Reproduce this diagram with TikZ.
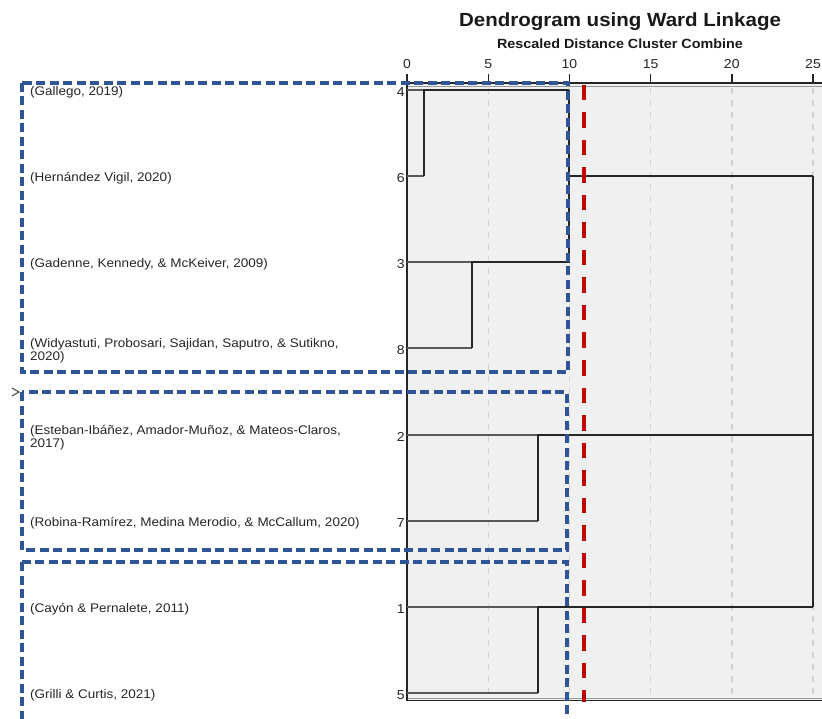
\documentclass[tikz,border=0pt]{standalone}
\usepackage{fontspec}
\setmainfont{Liberation Sans}[FakeStretch=1.08]
\definecolor{boxblue}{HTML}{2F5597}
\definecolor{cutred}{HTML}{C00000}
\definecolor{plotbg}{HTML}{F0F0F0}
\definecolor{gridgray}{HTML}{D2D2D2}
\tikzset{
  lbl/.style={anchor=west, align=left, font=\fontsize{12.5}{13}\selectfont, text=black!85, inner sep=0pt},
  num/.style={anchor=east, font=\fontsize{13}{13}\selectfont, text=black!85, inner sep=0pt},
  tick/.style={anchor=base, font=\fontsize{13}{14}\selectfont, text=black!85, inner sep=0pt},
  leafline/.style={line width=1.3pt, black!65},
  mergeline/.style={line width=1.8pt, black!85},
  gridline/.style={line width=1.4pt, gridgray, dash pattern=on 6pt off 6pt},
  clusterbox/.style={line width=3.4pt, boxblue, dash pattern=on 9pt off 4.5pt},
  cutline/.style={line width=4.2pt, cutred, dash pattern=on 15.5pt off 12pt},
}
\begin{document}
\begin{tikzpicture}[x=1pt,y=-1pt]
\useasboundingbox (0,0) rectangle (822,719);
% plot area
\fill[plotbg] (407,83) rectangle (822,700);
% grid lines
\foreach \u in {5,10,15,20,25} {
  \draw[gridline] ({407+16.24*\u},88) -- ({407+16.24*\u},698);
}
% frame
\draw[line width=1pt, black!40] (407,87) -- (822,87);
\draw[line width=1pt, black!40] (407,698) -- (822,698);
\draw[line width=1.8pt, black!85] (407,700.5) -- (822,700.5);
\draw[line width=1.8pt, black!85] (407,74) -- (407,700.5);
% axis
\draw[line width=1.4pt, black!85] (407,83) -- (822,83);
\foreach \u in {0,5,10,15,20,25} {
  \draw[line width=1.4pt, black!85] ({407+16.24*\u},74) -- ({407+16.24*\u},83);
  \node[tick] (t\u) at ({407+16.24*\u},69) {\u};
}
% titles
\node[anchor=base, font=\fontsize{19}{20}\selectfont\bfseries, text=black!90] (title) at (620,27) {Dendrogram using Ward Linkage};
\node[anchor=base, font=\fontsize{13.3}{14}\selectfont\bfseries, text=black!90] (subtitle) at (620,49) {Rescaled Distance Cluster Combine};

% leaf coordinates
\coordinate (l4) at (407,90);
\coordinate (l6) at (407,176);
\coordinate (l3) at (407,262);
\coordinate (l8) at (407,348);
\coordinate (l2) at (407,435);
\coordinate (l7) at (407,521);
\coordinate (l1) at (407,607);
\coordinate (l5) at (407,693);
% merge coordinates
\coordinate (m46) at (424,90);
\coordinate (m38) at (472,262);
\coordinate (mA) at (569,90);
\coordinate (mAc) at (569,176);
\coordinate (m27) at (538,435);
\coordinate (m15) at (538,607);
\coordinate (top) at (813,176);

% leaf lines
\draw[leafline] (l4) -- (m46);
\draw[leafline] (l6) -- (m46 |- l6);
\draw[leafline] (l3) -- (m38);
\draw[leafline] (l8) -- (m38 |- l8);
\draw[leafline] (l2) -- (m27);
\draw[leafline] (l7) -- (m27 |- l7);
\draw[leafline] (l1) -- (m15);
\draw[leafline] (l5) -- (m15 |- l5);
% merges
\draw[mergeline] (m46 |- l6) -- (m46) -- (mA);
\draw[mergeline] (m38 |- l8) -- (m38) -- (mA |- m38) -- (mA);
\draw[mergeline] (mAc) -- (top);
\draw[mergeline] (m27 |- l7) -- (m27) -- (top |- m27);
\draw[mergeline] (m15 |- l5) -- (m15) -- (top |- m15);
\draw[mergeline] (top) -- (top |- m15);

% labels
\node[lbl] (n4) at (30,92) {(Gallego, 2019)};
\node[lbl] (n6) at (30,178) {(Hernández Vigil, 2020)};
\node[lbl] (n3) at (30,264) {(Gadenne, Kennedy, \& McKeiver, 2009)};
\node[lbl] (n8) at (30,351) {(Widyastuti, Probosari, Sajidan, Saputro, \& Sutikno,\\2020)};
\node[lbl] (n2) at (30,438) {(Esteban-Ibáñez, Amador-Muñoz, \& Mateos-Claros,\\2017)};
\node[lbl] (n7) at (30,523) {(Robina-Ramírez, Medina Merodio, \& McCallum, 2020)};
\node[lbl] (n1) at (30,609) {(Cayón \& Pernalete, 2011)};
\node[lbl] (n5) at (30,695) {(Grilli \& Curtis, 2021)};
\node[num] (k4) at (405,92) {4};
\node[num] (k6) at (405,178) {6};
\node[num] (k3) at (405,264) {3};
\node[num] (k8) at (405,350) {8};
\node[num] (k2) at (405,437) {2};
\node[num] (k7) at (405,523) {7};
\node[num] (k1) at (405,609) {1};
\node[num] (k5) at (405,695) {5};

% cluster boxes
\draw[clusterbox] (22,83) rectangle (568,372);
\draw[clusterbox] (22,392) rectangle (567,550);
\draw[clusterbox] (22,562) rectangle (567,730);
% cut line
\draw[cutline] (584,85) -- (584,702);
% small chevron
\draw[line width=1.1pt, black!70] (12,388) -- (19,392) -- (12,396);
\end{tikzpicture}
\end{document}
